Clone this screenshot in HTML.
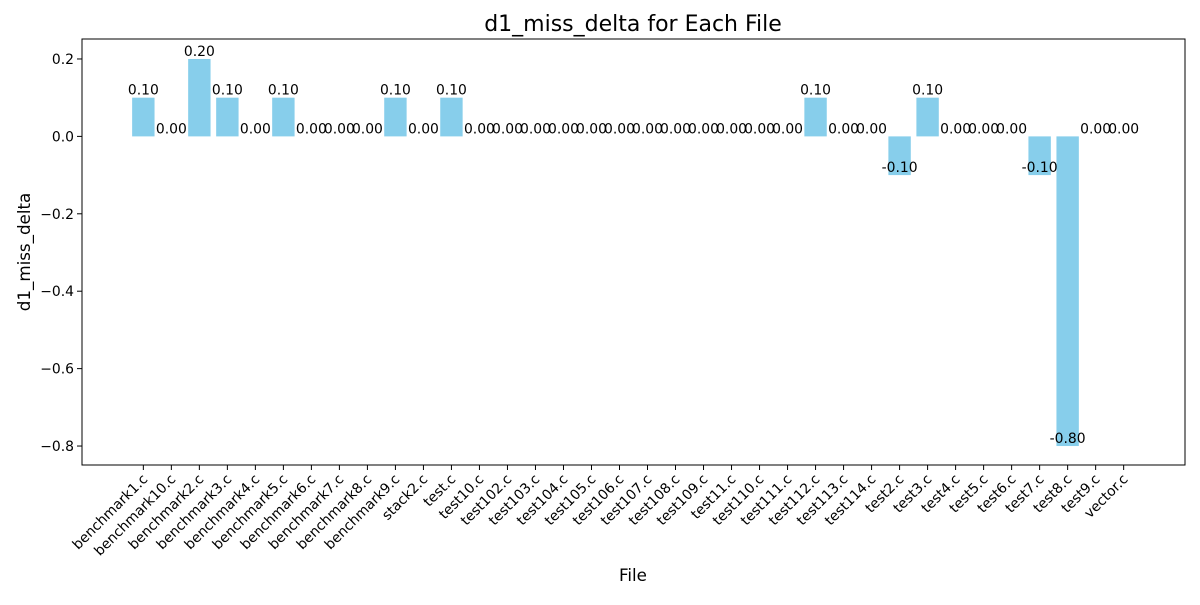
<!DOCTYPE html>
<html><head><meta charset="utf-8"><style>
body{margin:0;background:#fff;}
svg text{font-family:"DejaVu Sans","Liberation Sans",sans-serif;}
</style></head><body>
<svg id="chart" width="1200" height="600" xmlns="http://www.w3.org/2000/svg">
<rect width="1200" height="600" fill="#fff"/>
<text x="633" y="31" font-size="22" text-anchor="middle">d1_miss_delta for Each File</text>
<text x="633" y="581" font-size="16.7" text-anchor="middle">File</text>
<text x="0" y="0" font-size="16.7" text-anchor="middle" transform="translate(30,252) rotate(-90)">d1_miss_delta</text>
<g id="bars"></g><g id="labels"></g><g id="ticks"></g>
<rect x="82" y="39" width="1103" height="426" fill="none" stroke="#000" stroke-width="1"/>
</svg>
<script>
const categories=["benchmark1.c","benchmark10.c","benchmark2.c","benchmark3.c","benchmark4.c","benchmark5.c","benchmark6.c","benchmark7.c","benchmark8.c","benchmark9.c","stack2.c","test.c","test10.c","test102.c","test103.c","test104.c","test105.c","test106.c","test107.c","test108.c","test109.c","test11.c","test110.c","test111.c","test112.c","test113.c","test114.c","test2.c","test3.c","test4.c","test5.c","test6.c","test7.c","test8.c","test9.c","vector.c"];
const values=[0.1,0,0.2,0.1,0,0.1,0,0,0,0.1,0,0.1,0,0,0,0,0,0,0,0,0,0,0,0,0.1,0,0,-0.1,0.1,0,0,0,-0.1,-0.8,0,0];
const yTicks=[0.2,0,-0.2,-0.4,-0.6,-0.8];
const NS="http://www.w3.org/2000/svg";
const L=82,R=1185,T=39,B=465;
const n=categories.length;
const xmin=-0.4-0.05*(n-0.2), xmax=(n-1)+0.4+0.05*(n-0.2);
const x=i=>L+(i-xmin)/(xmax-xmin)*(R-L);
const bw=0.8*(R-L)/(xmax-xmin);
const ymin=-0.849,ymax=0.2516;
const y=v=>B-(v-ymin)/(ymax-ymin)*(B-T);
function mk(tag,at,parent,txt){const e=document.createElementNS(NS,tag);for(const k in at)e.setAttribute(k,at[k]);if(txt!==undefined)e.textContent=txt;document.getElementById(parent).appendChild(e);return e;}
values.forEach((v,i)=>{
 const r=mk('rect',{x:x(i)-bw/2,y:Math.min(y(v),y(0)),width:bw,height:Math.abs(y(v)-y(0)),fill:'#87ceeb'},'bars');
 
 
 const t=mk('text',{x:x(i),y:y(v)-3,'font-size':13.9,'text-anchor':'middle'},'labels',v.toFixed(2));
 
 
 const tk=mk('line',{x1:x(i),x2:x(i),y1:B,y2:B+5,stroke:'#000'},'ticks');
 
 
 const tl=mk('text',{x:0,y:0,'font-size':13.9,'text-anchor':'end',transform:`translate(${x(i)+5},${B+15}) rotate(-45)`},'ticks',categories[i]);
 
 
});
yTicks.forEach(v=>{
 const tk=mk('line',{x1:L-5,x2:L,y1:y(v),y2:y(v),stroke:'#000'},'ticks');
 
 
 const tl=mk('text',{x:L-8,y:y(v)+5,'font-size':13.9,'text-anchor':'end'},'ticks',(v<0?'\u2212':'')+Math.abs(v).toFixed(1));
 
 
});
</script>
</body></html>
